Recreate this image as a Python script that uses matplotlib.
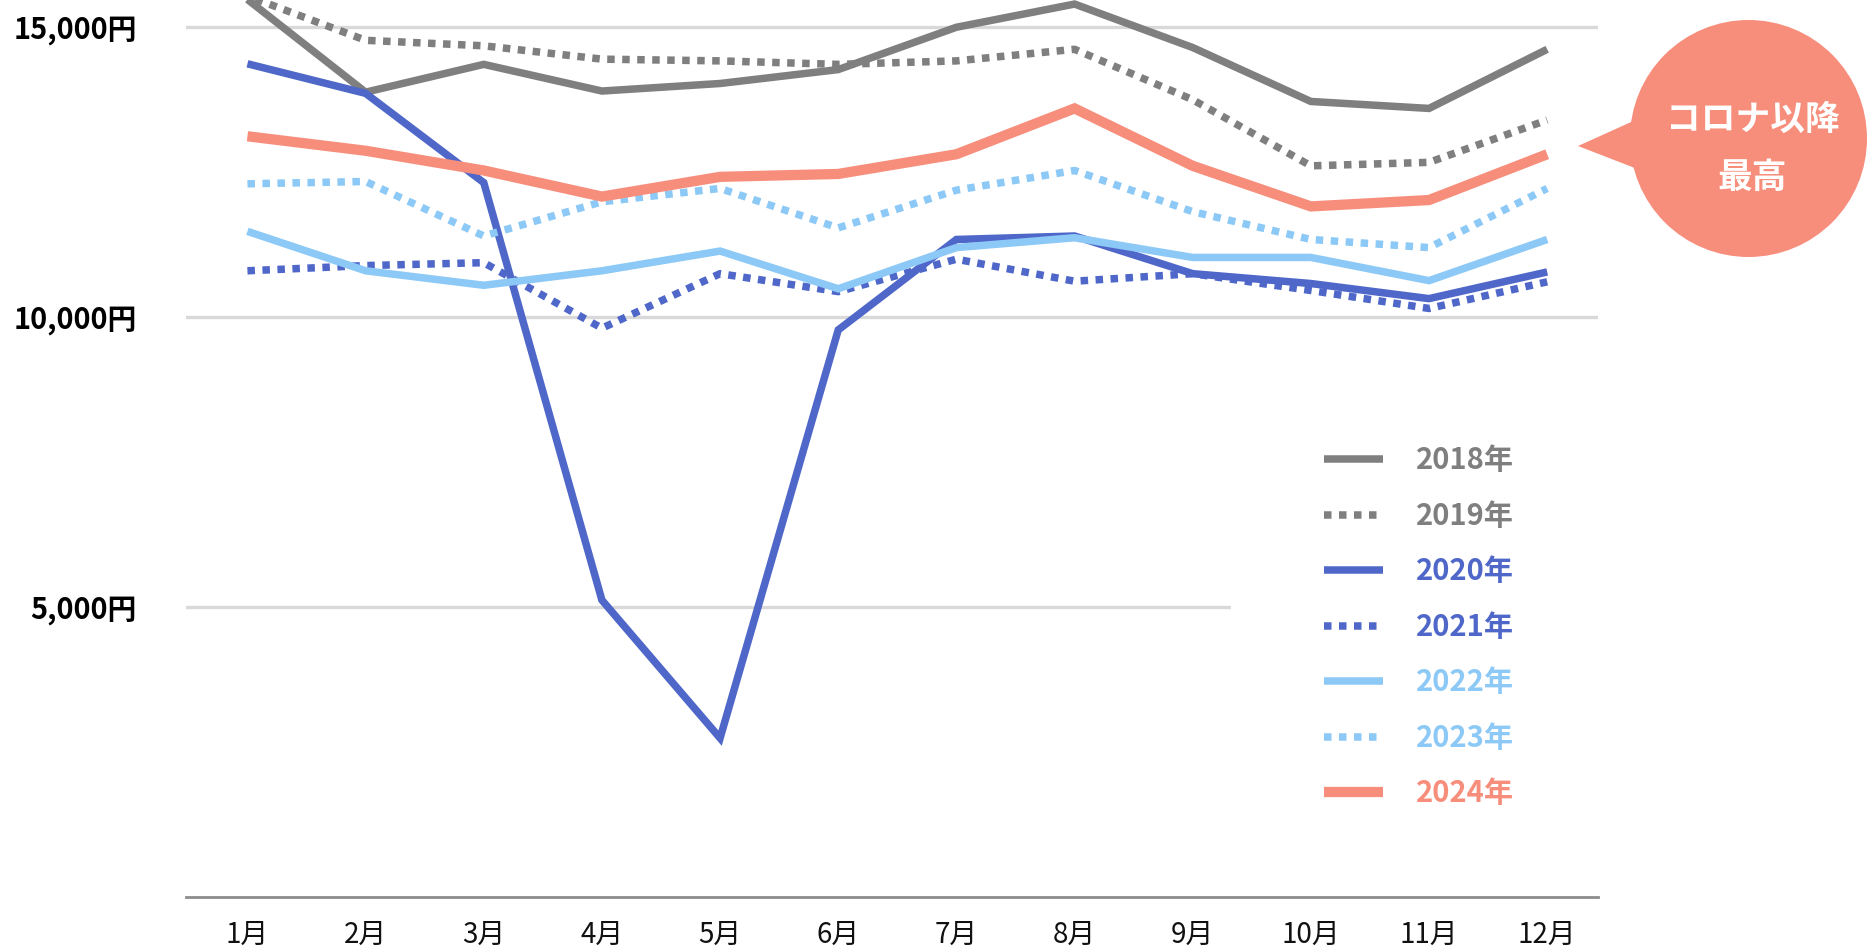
import matplotlib
matplotlib.use("Agg")
import matplotlib.pyplot as plt
from matplotlib.patches import Circle, Polygon

plt.rcParams['font.family'] = ['Noto Sans CJK JP', 'DejaVu Sans']

# ---------------------------------------------------------------------------
# DATA (monthly average, yen)
# ---------------------------------------------------------------------------
MONTHS = [f"{m}月" for m in range(1, 13)]
YEARS = ["2018年", "2019年", "2020年", "2021年", "2022年", "2023年", "2024年"]

Y2018 = [15480, 13880, 14360, 13900, 14030, 14270, 15000, 15400, 14650, 13720, 13600, 14620]
Y2019 = [15540, 14775, 14680, 14450, 14420, 14360, 14420, 14620, 13750, 12610, 12670, 13400]
Y2020 = [14370, 13860, 12320, 5120, 2740, 9780, 11340, 11400, 10750, 10580, 10320, 10780]
Y2021 = [10800, 10890, 10940, 9810, 10750, 10440, 11000, 10620, 10750, 10460, 10150, 10610]
Y2022 = [11480, 10800, 10550, 10800, 11140, 10490, 11200, 11370, 11030, 11030, 10630, 11340]
Y2023 = [12300, 12340, 11400, 11990, 12220, 11540, 12190, 12530, 11820, 11340, 11200, 12220]
Y2024 = [13120, 12870, 12530, 12080, 12420, 12470, 12810, 13600, 12610, 11910, 12020, 12810]

SERIES = [Y2018, Y2019, Y2020, Y2021, Y2022, Y2023, Y2024]

Y_TICKS = [5000, 10000, 15000]
Y_TICK_LABELS = ["5,000円", "10,000円", "15,000円"]

# ---------------------------------------------------------------------------
# STYLE
# ---------------------------------------------------------------------------
GRAY = "#7f7f7f"
BLUE = "#4f67c9"
LIGHT = "#8dc9f6"
SALMON = "#f78e7c"

STYLES = [
    (GRAY, "-", 5.4),
    (GRAY, "dot", 5.4),
    (BLUE, "-", 5.4),
    (BLUE, "dot", 5.4),
    (LIGHT, "-", 5.4),
    (LIGHT, "dot", 5.4),
    (SALMON, "-", 7.4),
]

W, H = 1871, 950
fig = plt.figure(figsize=(W / 100, H / 100), dpi=100)
ax = fig.add_axes([186 / W, (H - 897) / H, (1598 - 186) / W, 897 / H])

x = list(range(len(MONTHS)))
for vals, label, (color, ls, lw) in zip(SERIES, YEARS, STYLES):
    kw = dict(color=color, lw=lw, label=label, clip_on=False,
              solid_capstyle="butt", dash_capstyle="butt", solid_joinstyle="miter")
    if ls == "dot":
        kw["linestyle"] = (0, (1, 1))
    else:
        kw["linestyle"] = "-"
    ax.plot(x, vals, **kw)

ax.set_xlim(-0.52, 11.43)
ax.set_ylim(0, 15470)
ax.set_xticks(x)
ax.set_xticklabels(MONTHS, fontsize=20, color="#111111")
ax.set_yticks(Y_TICKS)
ax.set_yticklabels(Y_TICK_LABELS, fontsize=20.8, fontweight="bold", color="black")
ax.tick_params(axis="both", length=0)
ax.tick_params(axis="y", pad=35.5)
ax.tick_params(axis="x", pad=16.5)

ax.grid(axis="y", color="#d9d9d9", lw=2.4)
ax.set_axisbelow(True)
for side in ["top", "right", "left"]:
    ax.spines[side].set_visible(False)
ax.spines["bottom"].set_color("#8c8c8c")
ax.spines["bottom"].set_linewidth(2.0)
ax.spines["bottom"].set_zorder(10)

leg = ax.legend(loc="upper left", bbox_to_anchor=(1231 / W, 1 - 352 / H),
                bbox_transform=fig.transFigure, frameon=True, fancybox=False,
                facecolor="white", edgecolor="none", framealpha=1,
                prop={"weight": "bold", "size": 21},
                handlelength=2.0, handletextpad=1.15, labelspacing=0.875,
                borderpad=3.2, borderaxespad=0, labelcolor="linecolor")

# callout bubble
bubble = Circle((17.485, 8.115), 1.185, transform=fig.dpi_scale_trans,
                facecolor=SALMON, edgecolor="none")
pointer = Polygon([(15.78, 8.04), (16.40, 8.32), (16.40, 7.80)], closed=True,
                  transform=fig.dpi_scale_trans, facecolor=SALMON, edgecolor="none")
fig.add_artist(pointer)
fig.add_artist(bubble)
fig.text(1753 / W, 1 - 119 / H, "コロナ以降", color="white", fontsize=25,
         fontweight="bold", ha="center", va="center")
fig.text(1752 / W, 1 - 177 / H, "最高", color="white", fontsize=25,
         fontweight="bold", ha="center", va="center")

fig.savefig("out.png", dpi=100)
